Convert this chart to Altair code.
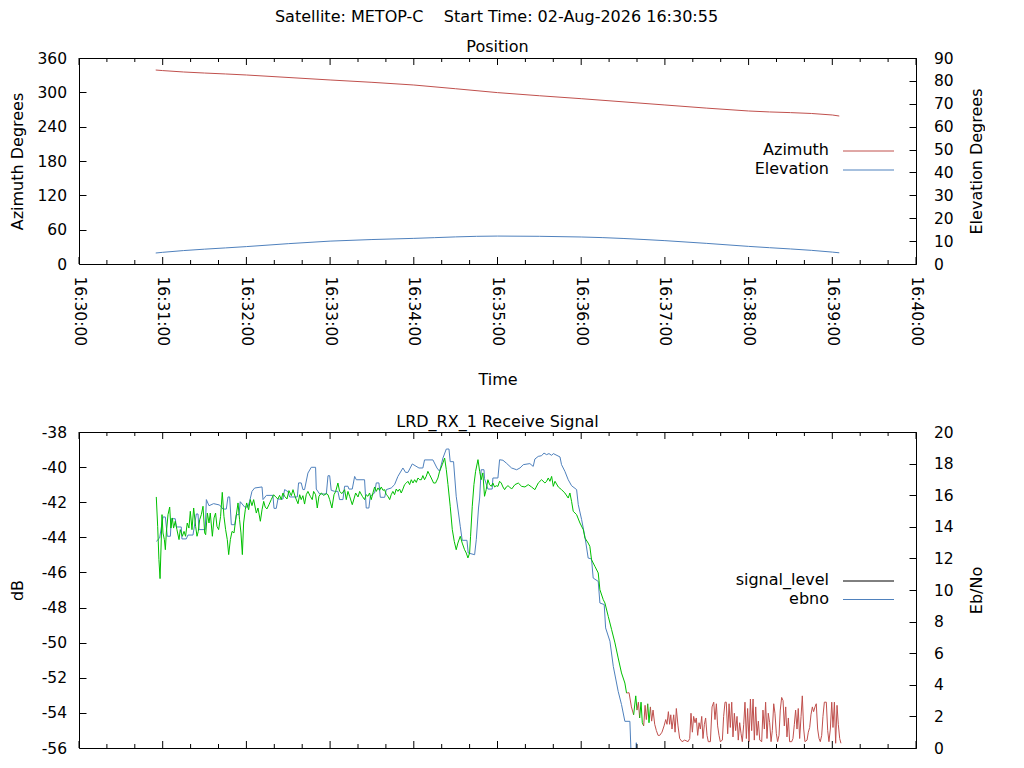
import altair as alt
import pandas as pd

START = pd.Timestamp("2026-08-02 16:30:00")

# ---- position panel (seconds after 16:30:00) ----
pos_sec = [55, 60, 120, 180, 240, 300, 360, 420, 480, 540, 545]
azimuth = [339.0, 338.0, 330.3, 321.6, 312.8, 299.5, 288.9, 277.9, 267.4, 260.4, 258.6]
elevation = [4.8, 5.1, 7.6, 10.0, 11.2, 12.2, 11.8, 10.2, 7.7, 5.2, 4.9]

# ---- receive signal panel ----
sig_sec = [
    55.4, 57.8, 60.2, 61.9, 63.3, 65.5, 66.2, 69.0, 69.8, 73.3,
    73.8, 76.9, 78.1, 81.7, 84.1, 85.3, 86.0, 90.5, 91.3, 93.2,
    96.5, 100.8, 103.2, 105.6, 106.8, 108.0, 109.2, 111.6, 112.8, 114.7,
    115.6, 118.7, 121.1, 122.3, 124.0, 125.9, 131.2, 131.9, 134.3, 139.0,
    139.8, 141.4, 142.6, 146.2, 147.4, 149.8, 151.0, 156.5, 157.4, 159.3,
    160.5, 161.7, 164.1, 166.5, 169.6, 170.1, 172.5, 177.3, 178.5, 179.7,
    180.8, 183.2, 185.6, 186.8, 189.2, 190.4, 192.8, 193.5, 195.9, 197.6,
    198.8, 204.7, 205.9, 207.8, 208.8, 211.9, 213.1, 215.0, 216.0, 219.1,
    220.3, 223.8, 226.2, 228.6, 232.2, 234.1, 235.8, 238.9, 243.7, 246.5,
    247.7, 253.7, 256.6, 258.5, 260.9, 263.3, 265.2, 266.1, 268.5, 270.4,
    273.3, 274.7, 278.1, 279.0, 283.6, 284.8, 286.4, 287.2, 288.3, 290.3,
    290.7, 293.1, 296.2, 296.7, 300.3, 301.5, 303.9, 306.3, 310.1, 313.7,
    316.1, 318.5, 323.2, 325.6, 326.8, 329.2, 331.6, 333.3, 335.2, 336.9,
    338.8, 340.0, 344.8, 345.9, 348.3, 350.7, 353.1, 356.7, 357.9, 360.3,
    362.7, 365.0, 367.4, 368.6, 372.2, 373.4, 376.5, 377.5, 380.6, 383.0,
    386.5, 388.9, 391.3, 394.9, 395.6, 398.5, 399.5, 400.5,
]
sig_db = [
    -44.23, -44.04, -42.84, -42.84, -43.94, -43.94, -42.94, -42.94, -43.41, -43.41,
    -44.09, -44.09, -43.87, -43.87, -42.67, -42.67, -43.56, -43.56, -41.85, -42.20,
    -42.08, -42.16, -42.39, -42.39, -41.70, -41.70, -43.28, -43.28, -42.71, -42.71,
    -41.97, -42.27, -42.27, -41.95, -41.38, -41.19, -41.13, -41.85, -41.61, -41.61,
    -42.35, -42.35, -41.82, -41.82, -41.28, -41.40, -41.70, -41.70, -40.90, -40.90,
    -41.28, -41.28, -40.34, -40.01, -40.01, -41.25, -41.53, -41.53, -40.49, -40.49,
    -41.32, -41.38, -41.38, -41.85, -41.85, -41.09, -41.09, -41.25, -41.25, -40.53,
    -40.72, -40.72, -42.33, -42.33, -41.66, -41.47, -40.90, -40.90, -41.72, -41.72,
    -41.28, -41.19, -41.00, -40.53, -40.05, -40.30, -40.30, -39.82, -40.05, -40.05,
    -39.59, -39.59, -40.05, -40.24, -39.48, -38.97, -38.97, -39.69, -39.69, -41.66,
    -43.37, -44.17, -44.17, -44.89, -44.99, -44.13, -42.33, -41.76, -40.15, -40.15,
    -40.66, -41.25, -41.25, -40.62, -40.62, -39.58, -39.61, -39.77, -40.05, -40.15,
    -40.05, -39.86, -39.80, -39.96, -39.54, -39.39, -39.35, -39.20, -39.29, -39.23,
    -39.33, -39.23, -39.42, -39.86, -40.24, -40.72, -41.06, -41.28, -42.14, -42.99,
    -43.98, -45.18, -45.23, -46.32, -46.51, -47.74, -47.83, -49.16, -49.92, -51.35,
    -52.77, -53.53, -54.48, -54.48, -56.00, -57.50, -55.70, -57.50,
]

# ebno while locked
ebno_sec_locked = [
    55.4, 56.4, 57.3, 58.1, 58.8, 59.5, 60.2, 61.2, 61.9, 62.6,
    63.8, 65.0, 65.9, 66.9, 67.8, 69.0, 70.2, 71.7, 72.6, 74.1,
    75.3, 76.4, 77.6, 78.8, 79.8, 81.0, 82.2, 83.6, 84.6, 85.5,
    86.5, 87.7, 88.9, 90.1, 90.8, 92.0, 93.2, 94.1, 95.6, 96.8,
    97.9, 98.9, 100.1, 101.5, 102.7, 103.9, 105.1, 106.3, 107.3, 108.5,
    109.7, 111.1, 112.8, 114.0, 115.1, 116.1, 117.1, 118.0, 119.2, 120.2,
    121.6, 122.8, 124.0, 125.2, 127.1, 128.3, 130.0, 131.2, 132.4, 133.5,
    134.7, 136.2, 137.8, 139.5, 141.0, 142.6, 143.8, 145.0, 146.2, 147.4,
    149.1, 150.5, 152.2, 153.4, 155.0, 157.0, 158.2, 159.3, 160.5, 161.7,
    162.9, 164.1, 165.8, 167.2, 168.2, 169.6, 170.8, 172.0, 173.7, 175.4,
    177.3, 178.5, 179.7, 181.3, 182.8, 184.0, 185.6, 186.8, 188.5, 190.4,
    191.6, 192.8, 194.0, 195.9, 197.1, 198.3, 200.0, 201.2, 203.1, 204.7,
    205.9, 207.1, 208.3, 209.5, 210.7, 211.9, 213.1, 214.3, 215.5, 216.7,
    217.9, 219.1, 220.3, 221.5, 222.7, 223.8, 225.0, 226.2, 227.4, 228.6,
    229.8, 231.0, 232.2, 233.4, 234.6, 235.8, 237.0, 238.2, 239.4, 240.6,
    241.8, 243.0, 244.2, 245.4, 246.5, 247.7, 248.9, 250.1, 251.3, 252.5,
    254.2, 255.6, 257.3, 258.5, 260.4, 262.1, 263.3, 264.5, 266.1, 267.6,
    269.0, 270.4, 271.6, 273.3, 274.7, 276.4, 277.6, 278.8, 280.0, 280.7,
    281.9, 283.1, 284.3, 286.0, 287.2, 288.3, 289.5, 290.7, 291.9, 293.1,
    294.3, 295.5, 296.7, 297.9, 299.1, 300.3, 301.5, 302.7, 303.9, 305.1,
    306.3, 307.5, 308.7, 310.1, 312.5, 314.9, 317.3, 319.7, 322.0, 324.4,
    326.8, 329.2, 331.6, 334.0, 335.2, 336.4, 337.6, 338.8, 340.0, 341.2,
    343.6, 345.9, 348.3, 350.7, 351.9, 353.1, 354.3, 356.7, 359.1, 361.5,
    362.7, 365.0, 366.2, 367.4, 369.8, 372.2, 373.4, 375.8, 377.0, 379.4,
    381.8, 384.2, 386.5, 388.9, 391.3, 392.5,
]
ebno_locked = [
    15.89, 14.03, 11.92, 10.72, 12.66, 14.77, 13.61, 13.19, 12.55, 13.61,
    14.77, 15.25, 13.92, 14.56, 13.92, 14.35, 13.82, 13.19, 13.82, 13.40,
    13.71, 13.40, 14.24, 13.92, 14.98, 13.82, 15.19, 14.03, 13.40, 13.71,
    14.45, 14.77, 15.30, 13.61, 13.50, 14.87, 14.24, 14.87, 13.40, 14.56,
    14.87, 14.03, 13.82, 14.66, 16.18, 14.66, 13.82, 13.19, 12.24, 13.19,
    13.71, 13.61, 14.77, 15.51, 14.45, 13.61, 12.24, 14.24, 15.08, 15.51,
    15.08, 15.72, 15.34, 15.72, 14.87, 15.19, 14.35, 15.08, 15.61, 15.25,
    15.13, 15.40, 15.72, 16.03, 15.89, 15.76, 15.99, 15.72, 16.14, 15.93,
    15.76, 16.29, 15.97, 16.35, 15.89, 15.46, 16.03, 15.72, 15.97, 15.44,
    16.03, 16.24, 15.93, 15.72, 16.24, 16.03, 15.19, 15.93, 16.14, 15.99,
    16.10, 16.03, 15.72, 15.19, 16.03, 16.24, 16.77, 16.24, 16.10, 16.35,
    15.72, 16.24, 15.93, 15.40, 15.76, 16.14, 15.89, 16.24, 15.93, 15.72,
    16.03, 15.93, 16.14, 15.72, 16.14, 16.52, 16.24, 16.46, 16.31, 16.52,
    16.31, 16.35, 16.03, 15.93, 15.72, 16.03, 16.24, 16.03, 16.39, 16.24,
    16.39, 16.14, 16.39, 16.67, 16.77, 16.88, 16.67, 16.98, 16.77, 16.98,
    16.81, 17.09, 16.98, 16.98, 17.24, 16.98, 17.19, 17.51, 17.30, 17.09,
    16.77, 16.77, 17.09, 17.51, 17.93, 18.35, 17.62, 16.67, 15.30, 13.82,
    13.08, 12.55, 12.97, 13.40, 12.97, 12.55, 12.34, 12.03, 12.34, 13.40,
    15.30, 16.67, 17.51, 18.25, 17.51, 16.98, 17.41, 15.93, 16.35, 16.98,
    16.67, 16.56, 16.77, 16.52, 16.60, 16.56, 16.88, 16.77, 16.52, 16.35,
    16.52, 16.60, 16.52, 16.39, 16.67, 16.77, 16.56, 16.52, 16.67, 16.52,
    16.35, 16.77, 16.98, 16.77, 16.88, 17.09, 16.88, 17.19, 16.56, 16.88,
    16.52, 16.35, 16.14, 15.82, 16.14, 15.61, 14.98, 14.77, 14.24, 13.82,
    13.29, 12.97, 12.76, 11.92, 11.50, 11.08, 10.02, 9.39, 9.18, 8.33,
    7.49, 6.65, 5.70, 4.75, 4.11, 3.48,
]

# ebno around and after loss of lock (G = locked, R = not locked)
ebno_sec_tail = [
    394.3, 396.0, 397.6, 399.1, 400.0, 401.0, 401.9, 402.9, 403.8, 404.8,
    405.8, 406.7, 407.7, 408.6, 409.6, 410.5, 411.5, 412.7, 413.9, 415.1,
    416.3, 417.9, 419.4, 420.6, 421.5, 422.5, 423.4, 424.2, 425.1, 426.3,
    427.3, 428.2, 429.4, 430.6, 432.3, 434.2, 436.6, 437.8, 438.7, 439.7,
    440.6, 441.6, 442.5, 443.5, 444.5, 445.4, 446.4, 447.3, 448.3, 449.2,
    450.2, 451.1, 452.6, 453.8, 455.0, 455.9, 456.9, 457.8, 458.8, 459.7,
    461.2, 462.1, 463.1, 464.0, 465.0, 466.0, 466.9, 467.9, 468.8, 469.8,
    470.7, 471.7, 472.6, 473.6, 474.6, 475.5, 476.5, 477.4, 478.4, 479.3,
    480.3, 481.3, 482.2, 483.2, 484.1, 485.1, 486.0, 487.0, 488.0, 489.4,
    490.3, 491.3, 492.2, 493.2, 494.1, 495.1, 496.1, 497.0, 498.0, 498.9,
    499.9, 500.8, 501.8, 502.7, 503.7, 504.7, 505.6, 506.6, 507.5, 508.5,
    509.4, 510.9, 511.8, 512.8, 513.7, 514.7, 515.6, 516.6, 517.6, 518.5,
    519.5, 520.4, 521.9, 522.8, 523.8, 524.7, 525.7, 526.6, 527.6, 528.5,
    529.5, 530.5, 531.4, 532.4, 533.3, 534.3, 535.7, 536.7, 537.6, 538.6,
    539.6, 540.5, 541.5, 542.4, 543.4, 544.3, 545.3, 546.2,
]
ebno_tail = [
    3.50, 2.60, 2.10, 3.30, 2.40, 2.90, 1.90, 2.90, 1.60, 1.40,
    2.70, 1.80, 2.80, 1.60, 2.60, 1.70, 2.40, 1.50, 1.10, 0.80,
    0.80, 1.00, 1.40, 1.80, 1.50, 2.30, 1.50, 2.10, 1.20, 2.10,
    1.00, 2.50, 1.40, 0.60, 0.40, 0.50, 0.40, 0.60, 2.20, 1.00,
    2.00, 1.60, 1.90, 0.80, 1.60, 1.20, 2.00, 0.60, 1.50, 1.90,
    0.80, 0.40, 0.40, 2.60, 2.90, 1.80, 2.80, 1.40, 0.80, 0.40,
    0.50, 2.00, 2.90, 2.90, 0.90, 2.80, 1.30, 2.90, 0.70, 2.20,
    1.10, 2.00, 0.50, 1.60, 0.90, 0.40, 1.50, 2.90, 0.60, 2.50,
    0.40, 3.10, 1.10, 3.10, 0.50, 2.60, 0.80, 1.70, 0.50, 0.40,
    2.40, 1.20, 2.90, 0.60, 2.20, 1.60, 0.40, 1.10, 2.80, 2.20,
    0.90, 0.40, 0.80, 2.40, 3.20, 3.00, 1.40, 2.60, 0.70, 1.90,
    0.40, 0.40, 0.60, 1.50, 2.40, 1.20, 2.50, 0.60, 2.00, 3.30,
    1.20, 0.40, 0.50, 1.00, 1.30, 2.10, 2.60, 2.30, 2.60, 2.80,
    1.20, 0.60, 0.40, 0.80, 2.00, 2.90, 2.90, 1.10, 0.40, 1.20,
    2.90, 1.30, 2.90, 0.30, 2.70, 1.50, 0.60, 0.30,
]
ebno_lock_tail = list("RRRGGRRGGGRRRGGR")
ebno_lock_tail += ["R"] * (len(ebno_tail) - len(ebno_lock_tail))

# time axis ticks (seconds after 16:30:00)
major_sec = [0, 60, 120, 180, 240, 300, 360, 420, 480, 540, 600]
minor_sec = [20, 40, 80, 100, 140, 160, 200, 220, 260, 280, 320, 340,
             380, 400, 440, 460, 500, 520, 560, 580]

FONT = "DejaVu Sans"
BLACK = "#000000"
RED = "#c0504d"
BLUE = "#4f81bd"
GREEN = "#00c000"

W = 837
H_POS = 206
H_SIG = 316
MAJOR = 7
MINOR = 4


def stamp(seconds):
    ts = START + pd.to_timedelta(seconds, unit="s")
    return [t.strftime("%Y-%m-%dT%H:%M:%S.%f")[:-3] for t in ts]


def dt(minute, second=0):
    return alt.DateTime(year=2026, month=8, date=2, hours=16, minutes=minute, seconds=second)


x_scale = alt.Scale(domain=[dt(30), dt(40)], nice=False)
time_axis = alt.Axis(
    orient="bottom", values=[dt(30 + i) for i in range(11)], ticks=False, domain=False,
    grid=False, format="%H:%M:%S", labelAngle=90, labelPadding=12, title="Time",
    titlePadding=26,
)


def y_axis(orient, values, title, pad):
    left = orient == "left"
    return alt.Axis(orient=orient, values=values, tickSize=MAJOR, offset=-MAJOR,
                    domain=False, grid=False, labelPadding=pad, labelExpr="''+datum.value",
                    title=title, titlePadding=11 if left else 16, minExtent=50 if left else 43,
                    maxExtent=50 if left else 43, titleAngle=270,
                    titleBaseline="bottom" if left else "top")


def x_ticks(height, axis):
    # inward tick marks on the bottom and top edges of a panel
    marks = []
    for secs, size in ((major_sec, MAJOR), (minor_sec, MINOR)):
        base = alt.Chart(pd.DataFrame({"time": stamp(secs)})).mark_rule(color=BLACK, strokeWidth=1)
        x = alt.X("time:T", scale=x_scale, axis=axis)
        marks.append(base.encode(x=x, y=alt.value(height), y2=alt.value(height - size)))
        marks.append(base.encode(x=x, y=alt.value(0), y2=alt.value(size)))
    return marks


def legend(entries, x_text, x0, x1):
    layers = []
    blank = alt.Data(values=[{}])
    for label, color, y in entries:
        layers.append(alt.Chart(blank).mark_text(
            text=label, align="right", baseline="middle", fontSize=16, color=BLACK
        ).encode(x=alt.value(x_text), y=alt.value(y)))
        layers.append(alt.Chart(blank).mark_rule(color=color, strokeWidth=1).encode(
            x=alt.value(x0), x2=alt.value(x1), y=alt.value(y + 1)))
    return layers


pos = pd.DataFrame({"time": stamp(pos_sec), "az": azimuth, "el": elevation})

az_line = alt.Chart(pos).mark_line(color=RED, strokeWidth=1, interpolate="monotone").encode(
    x=alt.X("time:T", scale=x_scale, axis=time_axis),
    y=alt.Y("az:Q", scale=alt.Scale(domain=[0, 360], nice=False),
            axis=y_axis("left", list(range(0, 361, 60)), "Azimuth Degrees", 12.5)),
)
el_line = alt.Chart(pos).mark_line(color=BLUE, strokeWidth=1, interpolate="monotone").encode(
    x=alt.X("time:T", scale=x_scale, axis=time_axis),
    y=alt.Y("el:Q", scale=alt.Scale(domain=[0, 90], nice=False),
            axis=y_axis("right", list(range(0, 91, 10)), "Elevation Degrees", 17.5)),
)

position = alt.layer(
    az_line, el_line, *x_ticks(H_POS, time_axis),
    *legend([("Azimuth", RED, 92), ("Elevation", BLUE, 111)], 750, 764, 815),
).resolve_scale(y="independent").properties(
    width=W, height=H_POS,
    title=alt.TitleParams("Position", frame="group", anchor="middle", offset=-4),
)

sig = pd.DataFrame({"time": stamp(sig_sec), "db": sig_db})
ebno_sec = ebno_sec_locked + ebno_sec_tail
ebno_val = ebno_locked + ebno_tail
ebno_lock = ["G"] * len(ebno_locked) + ebno_lock_tail
ebno_times = stamp(ebno_sec)
seg = pd.DataFrame({
    "t0": ebno_times[:-1], "t1": ebno_times[1:],
    "v0": ebno_val[:-1], "v1": ebno_val[1:],
    "lock": ebno_lock[1:],
})

sig_line = alt.Chart(sig).mark_line(color=BLUE, strokeWidth=1, clip=True).encode(
    x=alt.X("time:T", scale=x_scale, axis=None),
    y=alt.Y("db:Q", scale=alt.Scale(domain=[-56, -38], nice=False),
            axis=y_axis("left", list(range(-56, -37, 2)), "dB", 12.5)),
)
ebno_line = alt.Chart(seg).mark_rule(strokeWidth=1, clip=True).encode(
    x=alt.X("t0:T", scale=x_scale, axis=None),
    x2="t1:T",
    y=alt.Y("v0:Q", scale=alt.Scale(domain=[0, 20], nice=False),
            axis=y_axis("right", list(range(0, 21, 2)), "Eb/No", 17.5)),
    y2="v1:Q",
    color=alt.Color("lock:N", scale=alt.Scale(domain=["G", "R"], range=[GREEN, RED]), legend=None),
)

signal = alt.layer(
    sig_line, ebno_line, *x_ticks(H_SIG, None),
    *legend([("signal_level", BLACK, 148), ("ebno", BLUE, 166.5)], 750, 764, 815),
).resolve_scale(y="independent").properties(
    width=W, height=H_SIG,
    title=alt.TitleParams("LRD_RX_1 Receive Signal", frame="group", anchor="middle", offset=-5),
)

chart = alt.vconcat(
    position, signal, spacing=24,
    title=alt.TitleParams("Satellite: METOP-C\u00a0\u00a0\u00a0\u00a0Start Time: 02-Aug-2026 16:30:55",
                          anchor="middle", offset=14),
).properties(padding=0).configure(font=FONT).configure_view(
    stroke=BLACK, strokeWidth=1
).configure_axis(
    labelFont=FONT, titleFont=FONT, labelFontSize=15.5, titleFontSize=16,
    titleFontWeight="normal", labelColor=BLACK, titleColor=BLACK, tickColor=BLACK,
    tickWidth=1,
).configure_title(
    font=FONT, fontSize=16, fontWeight="normal", color=BLACK,
)

chart.save("out.html", embed_options={"renderer": "svg", "actions": False})
